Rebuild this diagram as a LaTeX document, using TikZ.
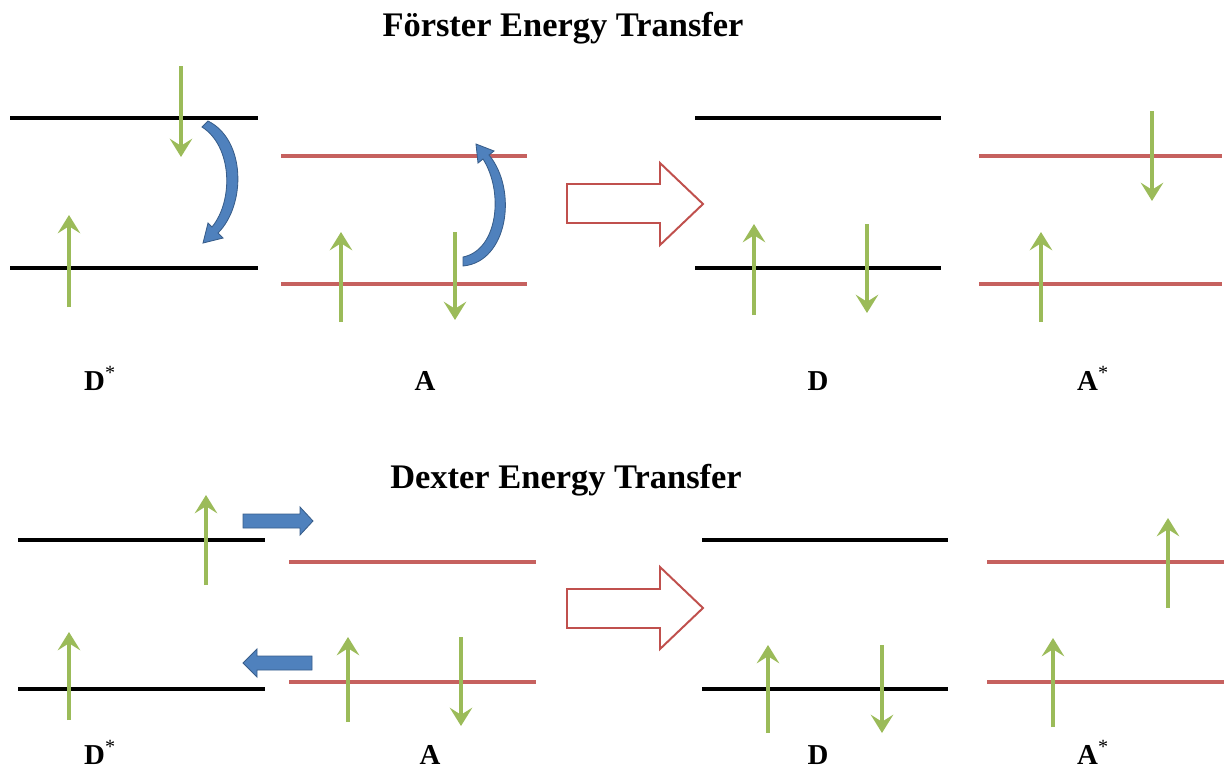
\documentclass[tikz,border=0pt]{standalone}
\usepackage{fontspec}
\setmainfont{Liberation Serif}
\usetikzlibrary{arrows.meta}
\definecolor{lvlred}{HTML}{C0504D}
\definecolor{spin}{HTML}{9BBB59}
\definecolor{bluefill}{HTML}{4F81BD}
\definecolor{blueline}{HTML}{385D8A}
\tikzset{
  blk/.style={line width=2.2pt, black},
  rlvl/.style={line width=2.2pt, lvlred!90},
  spinarr/.style={line width=2.6pt, spin, -{Stealth[length=13pt,width=16pt,inset=5pt]}},
  curved/.style={fill=bluefill, draw=blueline, line width=0.6pt},
  bigarr/.style={draw=lvlred, line width=1.4pt, fill=white, line join=miter},
  title/.style={font=\fontsize{24.5}{28}\selectfont\bfseries, inner sep=0pt},
  lab/.style={font=\fontsize{20.5}{25}\selectfont\bfseries, inner sep=0pt, anchor=base}
}
\newcommand{\st}{\textsuperscript{\mdseries *}}
\begin{document}
\begin{tikzpicture}[x=0.025cm, y=-0.025cm]
\useasboundingbox (0,0) rectangle (1224,771);
% ---------- Förster ----------
\node[title] (t1) at (563,28) {Förster Energy Transfer};
% levels
\draw[blk] (10,118) -- (258,118);
\draw[blk] (10,268) -- (258,268);
\draw[rlvl] (281,156) -- (527,156);
\draw[rlvl] (281,284) -- (527,284);
\draw[blk] (695,118) -- (941,118);
\draw[blk] (695,268) -- (941,268);
\draw[rlvl] (979,156) -- (1222,156);
\draw[rlvl] (979,284) -- (1222,284);
% spins
\draw[spinarr] (181,66) -- (181,157);
\draw[spinarr] (69,307) -- (69,215);
\draw[spinarr] (341,322) -- (341,232);
\draw[spinarr] (455,232) -- (455,320);
\draw[spinarr] (754,315) -- (754,224);
\draw[spinarr] (867,224) -- (867,313);
\draw[spinarr] (1152,111) -- (1152,201);
\draw[spinarr] (1041,322) -- (1041,232);
% curved arrows
\draw[curved] (202,127) -- (208,121) .. controls (246,140) and (246,205) .. (218,233)
  -- (223,238) -- (203,243) -- (208,223) -- (212,227)
  .. controls (234,200) and (232,146) .. cycle;
\draw[curved] (463,266) .. controls (508,262) and (518,190) .. (489,155)
  -- (494,151) -- (476,144) -- (478,163) -- (483,159)
  .. controls (504,192) and (498,250) .. (463,257) -- cycle;
% big arrow
\draw[bigarr] (567,184) -- (660,184) -- (660,163) -- (703,204) -- (660,245) -- (660,223) -- (567,223) -- cycle;
% labels
\node[lab] (ds1) at (100,390) {D\st};
\node[lab] (a1) at (425,390) {A};
\node[lab] (d1) at (818,390) {D};
\node[lab] (as1) at (1093,390) {A\st};
% ---------- Dexter ----------
\node[title] (t2) at (566,480) {Dexter Energy Transfer};
\draw[blk] (18,540) -- (265,540);
\draw[blk] (18,689) -- (265,689);
\draw[rlvl] (289,562) -- (536,562);
\draw[rlvl] (289,682) -- (536,682);
\draw[blk] (702,540) -- (948,540);
\draw[blk] (702,689) -- (948,689);
\draw[rlvl] (987,562) -- (1224,562);
\draw[rlvl] (987,682) -- (1224,682);
% spins
\draw[spinarr] (206,585) -- (206,495);
\draw[spinarr] (69,720) -- (69,632);
\draw[spinarr] (348,722) -- (348,637);
\draw[spinarr] (461,637) -- (461,726);
\draw[spinarr] (768,733) -- (768,645);
\draw[spinarr] (882,645) -- (882,733);
\draw[spinarr] (1168,608) -- (1168,518);
\draw[spinarr] (1053,727) -- (1053,638);
% blue block arrows
\draw[curved] (243,514) -- (300,514) -- (300,507) -- (313,521) -- (300,535) -- (300,528) -- (243,528) -- cycle;
\draw[curved] (312,656) -- (257,656) -- (257,649) -- (243,663) -- (257,677) -- (257,670) -- (312,670) -- cycle;
% big arrow
\draw[bigarr] (567,589) -- (660,589) -- (660,567) -- (703,608) -- (660,649) -- (660,628) -- (567,628) -- cycle;
% labels
\node[lab] (ds2) at (100,764) {D\st};
\node[lab] (a2) at (430,764) {A};
\node[lab] (d2) at (818,764) {D};
\node[lab] (as2) at (1093,764) {A\st};
\end{tikzpicture}
\end{document}
